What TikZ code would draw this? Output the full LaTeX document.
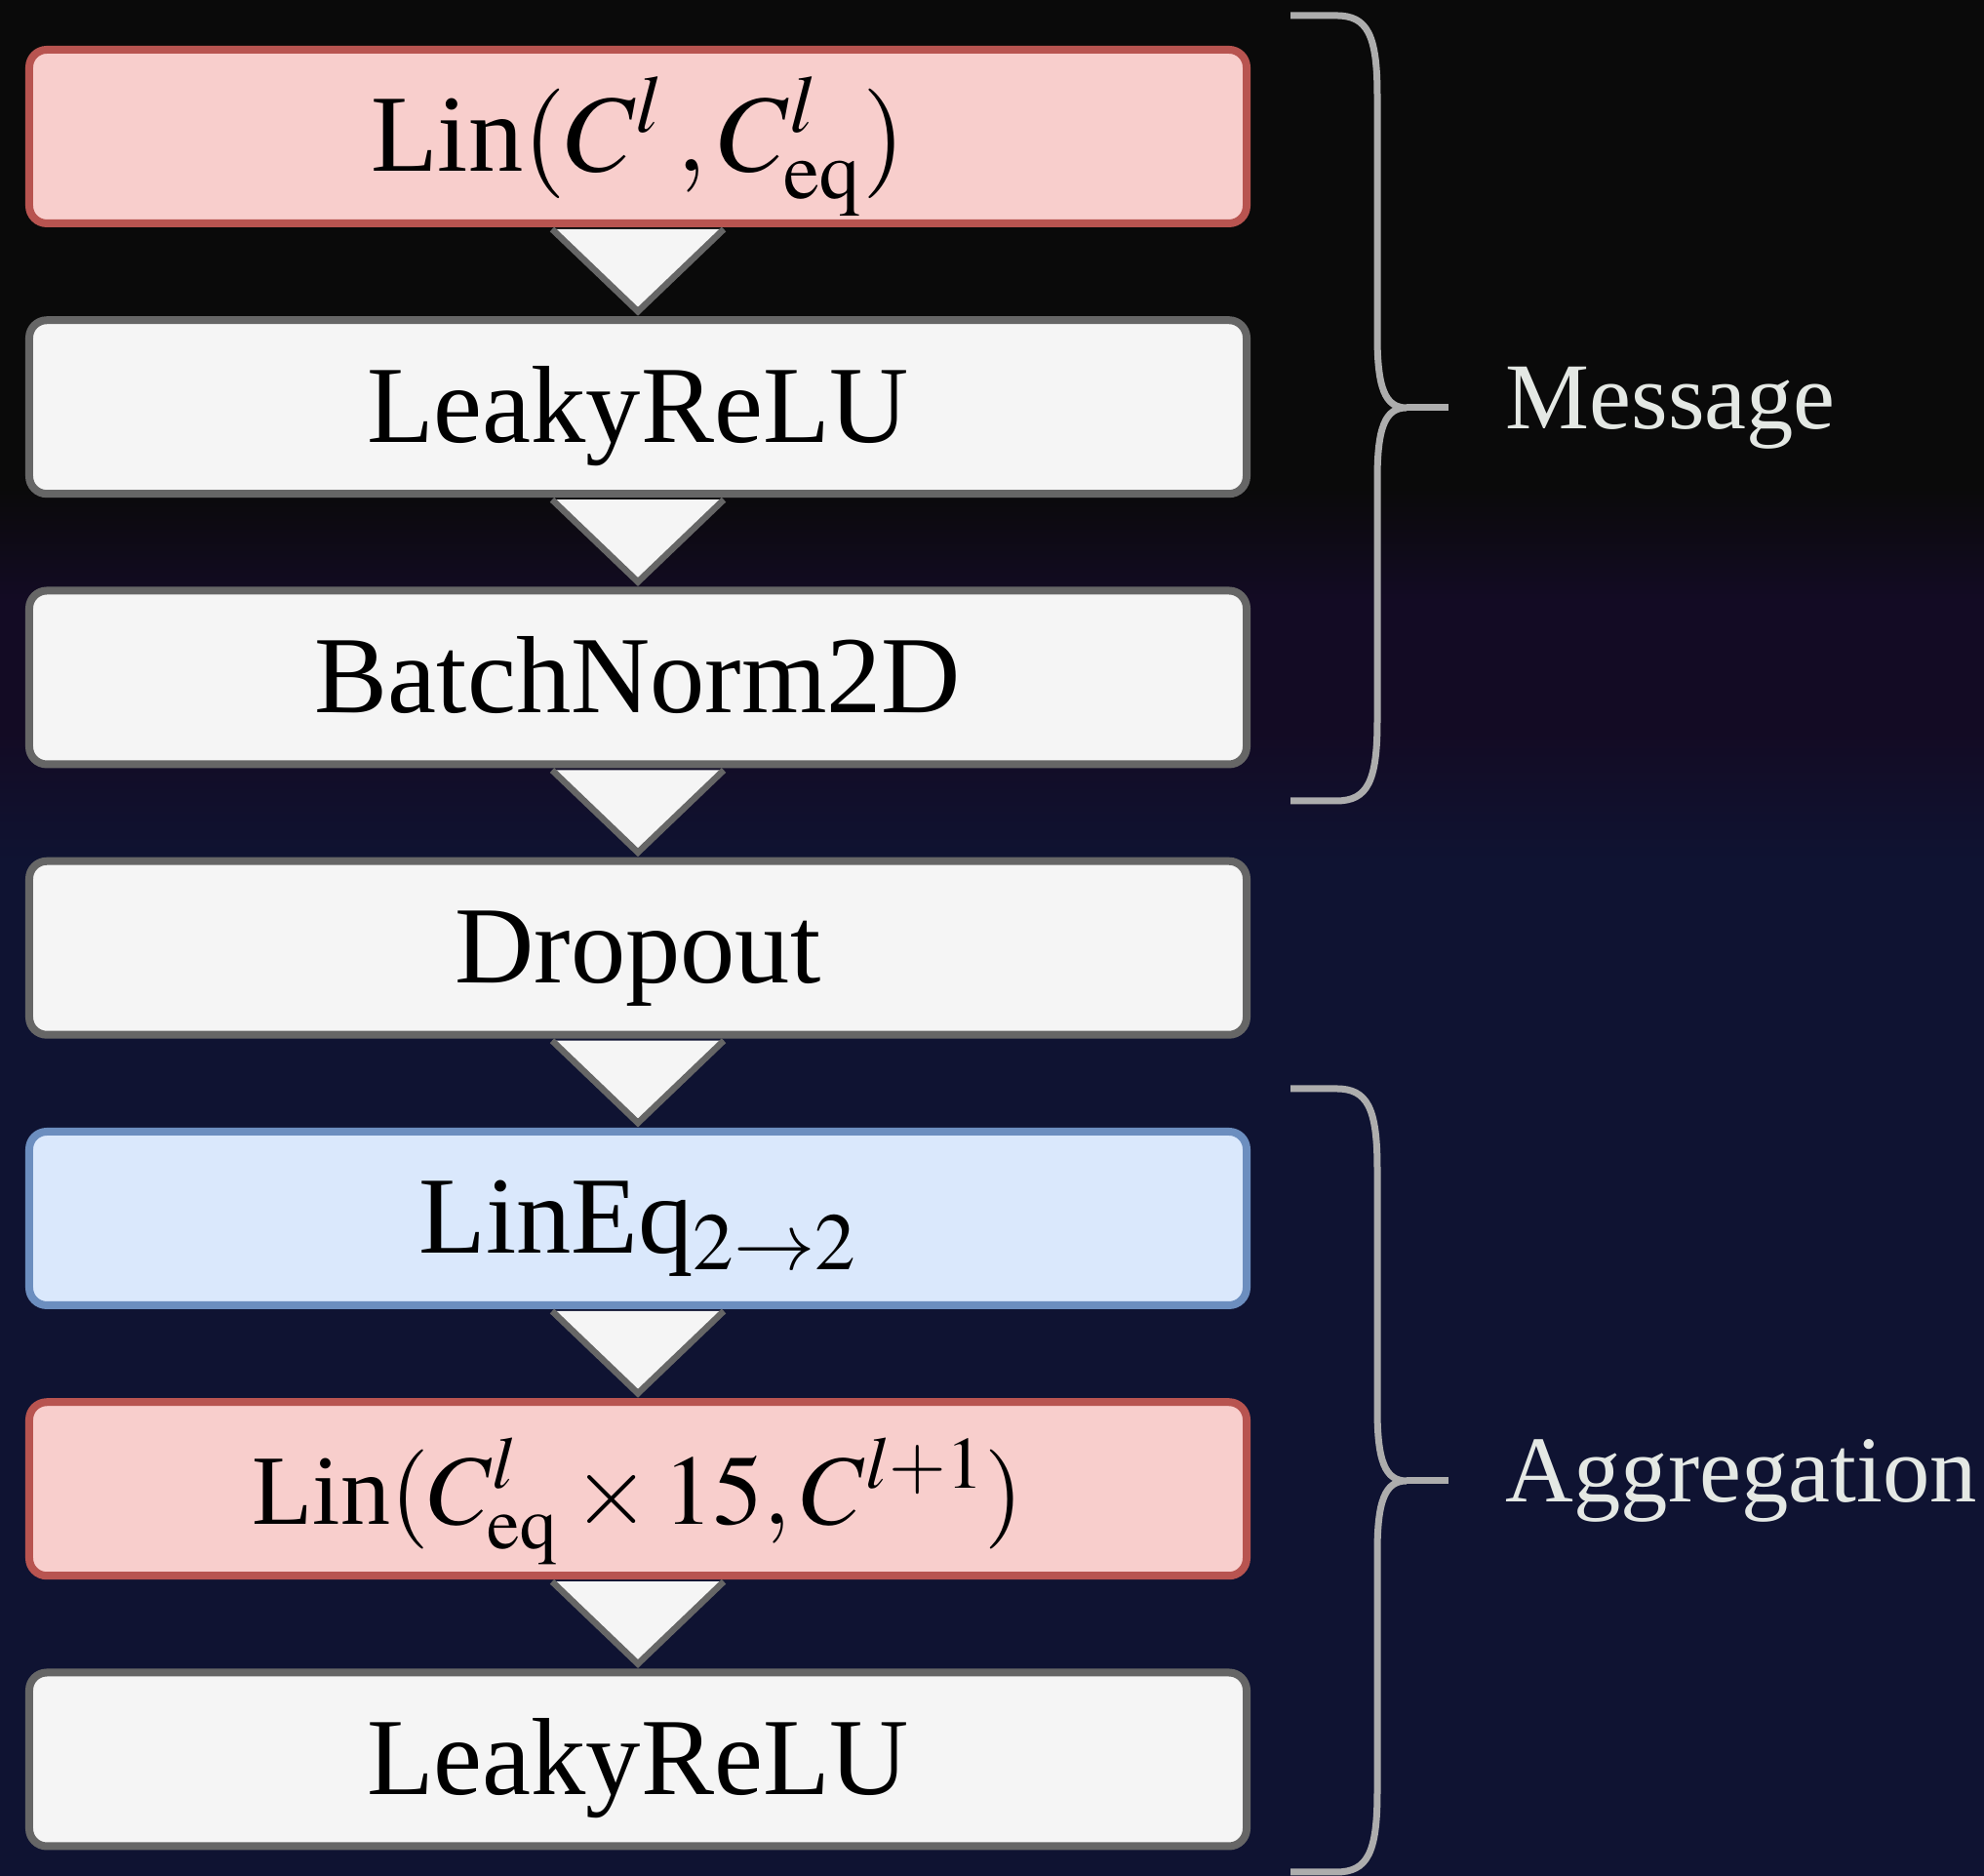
\documentclass[tikz,border=0pt]{standalone}
\usepackage{mathptmx}
\usepackage{fontspec}
\setmainfont{Liberation Serif}
\usepackage{tikz}
\usetikzlibrary{positioning}
\definecolor{LinFill}{HTML}{F8CECC}
\definecolor{LinLine}{HTML}{B85450}
\definecolor{EqFill}{HTML}{DAE8FC}
\definecolor{EqLine}{HTML}{6C8EBF}
\definecolor{PlainFill}{HTML}{F5F5F5}
\definecolor{PlainLine}{HTML}{666666}
\definecolor{BraceGray}{HTML}{ADADAD}
\definecolor{LabelWhite}{HTML}{E4E8E4}
\definecolor{bgBlack}{HTML}{0A0A0A}
\definecolor{bgPurple}{HTML}{130B24}
\definecolor{bgNavy}{HTML}{0F1332}
\pgfdeclareverticalshading{bgfade}{100bp}{color(0bp)=(bgNavy); color(52bp)=(bgNavy); color(55.5bp)=(bgPurple); color(59bp)=(bgPurple); color(62bp)=(bgBlack); color(100bp)=(bgBlack)}

\tikzset{
  layer/.style={draw, rounded corners=0.18cm, line width=0.08cm, minimum width=12.48cm, minimum height=1.78cm, inner sep=0.2cm, text height=0.95cm, text depth=0.23cm, text=black, font=\fontsize{32}{38}\selectfont},
  linbox/.style={layer, fill=LinFill, draw=LinLine},
  eqbox/.style={layer, fill=EqFill, draw=EqLine},
  plainbox/.style={layer, fill=PlainFill, draw=PlainLine},
  flow/.style={draw=PlainLine, fill=PlainFill, line width=0.065cm},
  bracket/.style={draw=BraceGray, line width=0.07cm},
  grouplabel/.style={text=LabelWhite, inner sep=0pt, font=\fontsize{27.5}{33}\selectfont}
}

\begin{document}
\begin{tikzpicture}[node distance=0.9125cm]
    % Background
    \useasboundingbox (0,0) rectangle (20.34,19.23);
    \shade[shading=bgfade] (0,0) rectangle (20.34,19.23);

    % Layers
    \node[linbox] (lin1) at (6.54,17.83) {Lin$(C^{l}\,, C^{l}_{\mathrm{eq}})$};
    \node[plainbox, below=of lin1] (relu1) {LeakyReLU};
    \node[plainbox, below=of relu1] (bnorm) {BatchNorm2D};
    \node[plainbox, below=of bnorm] (drop) {Dropout};
    \node[eqbox, below=of drop] (lineq) {LinEq$_{2\rightarrow 2}$};
    \node[linbox, below=of lineq, font=\fontsize{29}{35}\selectfont] (lin2) {Lin$(C^{l}_{\mathrm{eq}} \times 15, C^{l+1})$};
    \node[plainbox, below=of lin2] (relu2) {LeakyReLU};

    % Flow triangles
    \foreach \a/\b in {lin1/relu1, relu1/bnorm, bnorm/drop, drop/lineq, lineq/lin2, lin2/relu2}
      \draw[flow] ([xshift=-0.88cm, yshift=-0.02cm]\a.south) -- ([yshift=0.05cm]\b.north) -- ([xshift=0.88cm, yshift=-0.02cm]\a.south);

    % Braces
    \foreach \yt/\ym/\yb/\nm in {19.07/15.05/11.02/msg, 8.07/4.05/0.04/agg} {
      \draw[bracket] (13.23,\yt) -- (13.70,\yt)
        .. controls (14.02,\yt) and (14.12,{\yt-0.2}) .. (14.12,{\yt-0.82})
        -- (14.12,{\ym+0.74})
        .. controls (14.12,{\ym+0.2}) and (14.20,\ym) .. (14.42,\ym)
        .. controls (14.20,\ym) and (14.12,{\ym-0.2}) .. (14.12,{\ym-0.74})
        -- (14.12,{\yb+0.82})
        .. controls (14.12,{\yb+0.2}) and (14.02,\yb) .. (13.70,\yb)
        -- (13.23,\yb);
      \draw[bracket] (14.42,\ym) -- (14.85,\ym) coordinate (\nm Tip);
    }

    % Group labels
    \node[grouplabel, right=0.58cm of msgTip] (msgLabel) {Message};
    \node[grouplabel, right=0.58cm of aggTip] (aggLabel) {Aggregation};
\end{tikzpicture}
\end{document}
